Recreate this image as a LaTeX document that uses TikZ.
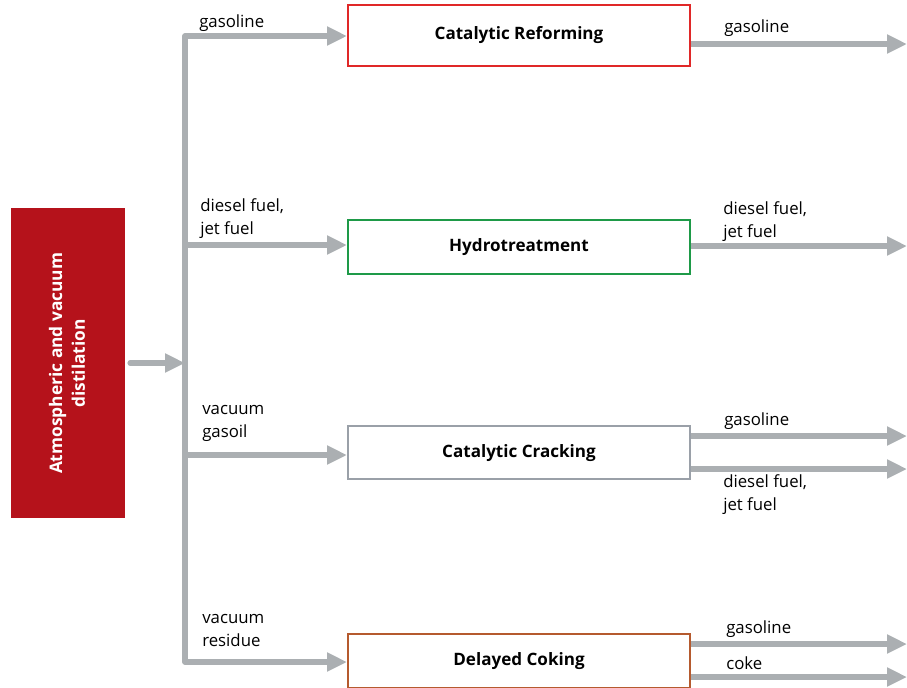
\documentclass[tikz,border=0pt]{standalone}
\usepackage{fontspec}
\setmainfont{Open Sans}
\usetikzlibrary{arrows.meta}
\definecolor{flowgray}{HTML}{ABAFB2}
\definecolor{distred}{HTML}{B5121B}
\definecolor{reformred}{HTML}{E02828}
\definecolor{hydrogreen}{HTML}{1E9A48}
\definecolor{crackgray}{HTML}{9AA0A8}
\definecolor{cokebrown}{HTML}{B55A2E}
\tikzset{
  flow/.style={draw=flowgray, line width=3.8pt, line join=round, -{Triangle[length=15pt,width=13.5pt]}},
  proc/.style={draw=#1, line width=1.5pt, fill=white, minimum width=256.5pt, inner sep=0pt, font=\bfseries\fontsize{12.8}{15}\selectfont},
  lbl/.style={anchor=north west, inner sep=0pt, align=left, font=\fontsize{12.6}{17.5}\selectfont},
}
\begin{document}
\begin{tikzpicture}[x=0.75pt,y=-0.75pt]
\useasboundingbox (0,0) rectangle (907,687);
% distillation box
\node[fill=distred, minimum width=85.5pt, minimum height=232.5pt, inner sep=0pt, anchor=north west] (dist) at (11,208) {};
\node[rotate=90, text=white, align=center, font=\bfseries\fontsize{13}{17}\selectfont] (distlbl) at ([xshift=-1pt]dist.center) {Atmospheric and vacuum\\distilation};
% process boxes
\node[proc=reformred, minimum height=45.75pt, anchor=north west] (ref) at (347,4) {Catalytic Reforming};
\node[proc=hydrogreen, minimum height=40.5pt, anchor=north west] (hyd) at (347,219) {Hydrotreatment};
\node[proc=crackgray, minimum height=40pt, anchor=north west] (cra) at (347,425) {Catalytic Cracking};
\node[proc=cokebrown, minimum height=40.5pt, anchor=north west] (cok) at (347,633) {Delayed Coking};
% bus coordinates
\coordinate (bin) at (185,363);
\coordinate (b1) at (185,36);
\coordinate (b2) at (185,245);
\coordinate (b3) at (185,455);
\coordinate (b4) at (185,662);
\coordinate (ain) at (130,363);
% input arrow
\draw[flow, line cap=round] (ain) -- (bin);
% bus and branches
\draw[flow] (b2) -- (b1) -- (b1 -| ref.west);
\draw[flow] (b2) -- (b2 -| hyd.west);
\draw[flow] (b3) -- (b3 -| cra.west);
\draw[flow] (b2) -- (b4) -- (b4 -| cok.west);
% outputs
\coordinate (o1) at (907,44);
\coordinate (o2) at (907,246);
\coordinate (o3) at (907,436);
\coordinate (o4) at (907,469);
\coordinate (o5) at (907,644);
\coordinate (o6) at (907,677);
\draw[flow] (o1 -| ref.east) -- (o1);
\draw[flow] (o2 -| hyd.east) -- (o2);
\draw[flow] (o3 -| cra.east) -- (o3);
\draw[flow] (o4 -| cra.east) -- (o4);
\draw[flow] (o5 -| cok.east) -- (o5);
\draw[flow] (o6 -| cok.east) -- (o6);
% input labels
\node[lbl] (l1) at (199,14) {gasoline};
\node[lbl] (l2) at (200,198) {diesel fuel,\\jet fuel};
\node[lbl] (l3) at (202,405) {vacuum\\gasoil};
\node[lbl] (l4) at (202,614) {vacuum\\residue};
% output labels
\node[lbl] (r1) at (724,19) {gasoline};
\node[lbl] (r2) at (723,201) {diesel fuel,\\jet fuel};
\node[lbl] (r3) at (724,412) {gasoline};
\node[lbl] (r4) at (723,474) {diesel fuel,\\jet fuel};
\node[lbl] (r5) at (726,620) {gasoline};
\node[lbl] (r6) at (726,656) {coke};
\end{tikzpicture}
\end{document}
